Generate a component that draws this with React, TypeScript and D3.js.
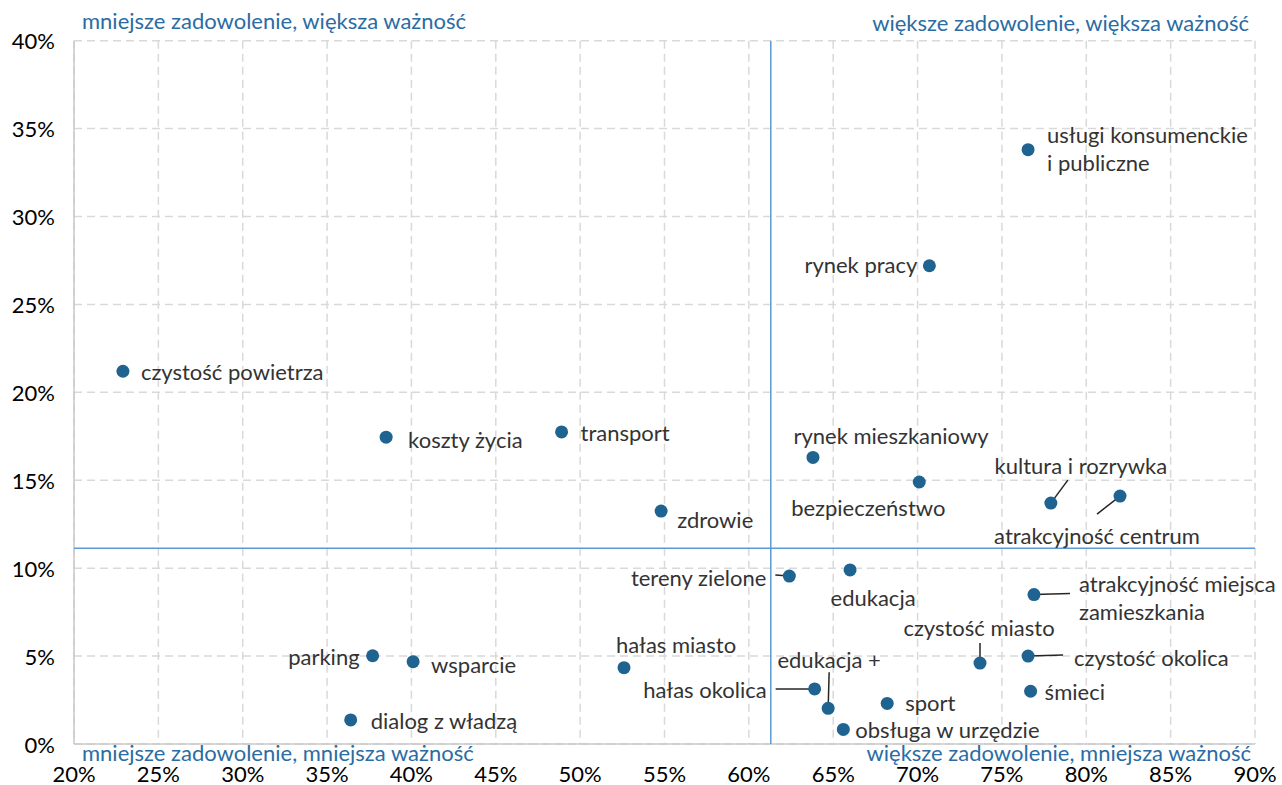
import React from "react";
import * as d3 from "d3";

// ---- data ----
const labels = [
  "usługi konsumenckie\ni publiczne",
  "rynek pracy",
  "czystość powietrza",
  "koszty życia",
  "transport",
  "zdrowie",
  "rynek mieszkaniowy",
  "bezpieczeństwo",
  "kultura i rozrywka",
  "atrakcyjność centrum",
  "atrakcyjność miejsca\nzamieszkania",
  "tereny zielone",
  "edukacja",
  "hałas miasto",
  "hałas okolica",
  "edukacja +",
  "sport",
  "obsługa w urzędzie",
  "czystość miasto",
  "czystość okolica",
  "śmieci",
  "parking",
  "wsparcie",
  "dialog z władzą",
];
const satisfaction = [
  0.7655, 0.707, 0.229, 0.385, 0.489, 0.548, 0.638, 0.701, 0.779, 0.82,
  0.769, 0.624, 0.66, 0.526, 0.639, 0.647, 0.682, 0.656, 0.737, 0.7655,
  0.767, 0.377, 0.401, 0.364,
];
const importance = [
  0.338, 0.272, 0.212, 0.1745, 0.1775, 0.1325, 0.163, 0.149, 0.137, 0.141,
  0.085, 0.0955, 0.099, 0.0434, 0.0313, 0.0203, 0.0231, 0.0083, 0.046, 0.05,
  0.03, 0.0502, 0.0468, 0.0137,
];
const xTicks = [0.2, 0.25, 0.3, 0.35, 0.4, 0.45, 0.5, 0.55, 0.6, 0.65, 0.7, 0.75, 0.8, 0.85, 0.9];
const yTicks = [0, 0.05, 0.1, 0.15, 0.2, 0.25, 0.3, 0.35, 0.4];
const meanSatisfaction = 0.613;
const meanImportance = 0.1113;
const quadrantLabels = [
  "mniejsze zadowolenie, większa ważność",
  "większe zadowolenie, większa ważność",
  "mniejsze zadowolenie, mniejsza ważność",
  "większe zadowolenie, mniejsza ważność",
];

// ---- label placement (offsets in px from the dot) ----
type Place = { dx: number; dy: number; anchor: string; leader?: [number, number] };
const placement: Place[] = [
  { dx: 19, dy: -16, anchor: "start" },
  { dx: -12, dy: -2, anchor: "end" },
  { dx: 18, dy: 0, anchor: "start" },
  { dx: 22, dy: 2, anchor: "start" },
  { dx: 19, dy: 0, anchor: "start" },
  { dx: 16, dy: 8, anchor: "start" },
  { dx: 78, dy: -22, anchor: "middle" },
  { dx: -51, dy: 25, anchor: "middle" },
  { dx: 30, dy: -38, anchor: "middle", leader: [17, -23] },
  { dx: -23, dy: 39, anchor: "middle", leader: [-23, 18] },
  { dx: 45, dy: -12, anchor: "start", leader: [36, -1] },
  { dx: -23, dy: 1, anchor: "end", leader: [-14, -1] },
  { dx: 23, dy: 27, anchor: "middle" },
  { dx: 52, dy: -24, anchor: "middle" },
  { dx: -48, dy: 0, anchor: "end", leader: [-39, 0] },
  { dx: 1, dy: -49, anchor: "middle", leader: [1, -36] },
  { dx: 18, dy: -1, anchor: "start" },
  { dx: 12, dy: 0, anchor: "start" },
  { dx: -1, dy: -36, anchor: "middle", leader: [0, -20] },
  { dx: 46, dy: 1, anchor: "start", leader: [35, -1] },
  { dx: 14, dy: 0, anchor: "start" },
  { dx: -13, dy: 0, anchor: "end" },
  { dx: 18, dy: 2, anchor: "start" },
  { dx: 20, dy: 0, anchor: "start" },
];

const W = 1282;
const H = 785;
const left = 74;
const right = 1255;
const top = 40.7;
const bottom = 744;
const FONT = "Lato, 'Noto Sans', sans-serif";
const FS = 22;
const TEXT = "#333333";
const BLUE = "#2a6ca3";
const DOT = "#1f6391";

export default function App() {
  const x = d3.scaleLinear().domain([0.2, 0.9]).range([left, right]);
  const y = d3.scaleLinear().domain([0, 0.4]).range([bottom, top]);
  const pct = d3.format(".0%");
  const lineH = 28;

  return (
    <div style={{ position: "absolute", left: 0, top: 0 }}>
      <svg width={W} height={H} style={{ display: "block", background: "#fff" }} fontFamily={FONT}>
        {/* grid */}
        {xTicks.map((t, i) => (
          <line key={"gx" + i} x1={x(t)} x2={x(t)} y1={top} y2={bottom}
            stroke="#d9d9d9" strokeWidth={1.5} strokeDasharray="8,5" />
        ))}
        {yTicks.map((t, i) => (
          <line key={"gy" + i} x1={left} x2={right} y1={y(t)} y2={y(t)}
            stroke="#d9d9d9" strokeWidth={1.5} strokeDasharray="8,5" />
        ))}
        {/* axes */}
        <line x1={left} x2={left} y1={top} y2={bottom} stroke="#c8c8c8" strokeWidth={1.5} />
        <line x1={left} x2={right} y1={bottom} y2={bottom} stroke="#c8c8c8" strokeWidth={1.5} />
        {/* mean lines */}
        <line x1={x(meanSatisfaction)} x2={x(meanSatisfaction)} y1={top} y2={bottom} stroke="#5b9bd5" strokeWidth={1.5} />
        <line x1={left} x2={right} y1={y(meanImportance)} y2={y(meanImportance)} stroke="#5b9bd5" strokeWidth={1.5} />
        {/* tick labels */}
        {yTicks.map((t, i) => (
          <text key={"ty" + i} x={55} y={y(t)} textAnchor="end" dominantBaseline="central"
            fontSize={FS} fill="#000">{pct(t)}</text>
        ))}
        {xTicks.map((t, i) => (
          <text key={"tx" + i} x={x(t)} y={773} textAnchor="middle" dominantBaseline="central"
            fontSize={FS} fill="#000">{pct(t)}</text>
        ))}
        {/* quadrant labels */}
        <text x={82} y={20} dominantBaseline="central" fontSize={FS} fill={BLUE}>{quadrantLabels[0]}</text>
        <text x={1249} y={22} textAnchor="end" dominantBaseline="central" fontSize={FS} fill={BLUE}>{quadrantLabels[1]}</text>
        <text x={82} y={752} dominantBaseline="central" fontSize={FS} fill={BLUE}>{quadrantLabels[2]}</text>
        <text x={1251} y={752} textAnchor="end" dominantBaseline="central" fontSize={FS} fill={BLUE}>{quadrantLabels[3]}</text>
        {/* leaders */}
        {labels.map((_, i) => {
          const p = placement[i];
          if (!p.leader) return null;
          const cx = x(satisfaction[i]);
          const cy = y(importance[i]);
          return (
            <line key={"ld" + i} x1={cx} y1={cy} x2={cx + p.leader[0]} y2={cy + p.leader[1]}
              stroke="#262626" strokeWidth={1.5} />
          );
        })}
        {/* dots */}
        {labels.map((_, i) => (
          <circle key={"pt" + i} cx={x(satisfaction[i])} cy={y(importance[i])} r={6.5} fill={DOT} />
        ))}
        {/* point labels */}
        {labels.map((l, i) => {
          const p = placement[i];
          const cx = x(satisfaction[i]);
          const cy = y(importance[i]);
          const lines = l.split("\n");
          return (
            <text key={"lb" + i} x={cx + p.dx} y={cy + p.dy} textAnchor={p.anchor}
              dominantBaseline="central" fontSize={FS} fill={TEXT}>
              {lines.map((s, j) => (
                <tspan key={j} x={cx + p.dx} dy={j === 0 ? 0 : lineH}>{s}</tspan>
              ))}
            </text>
          );
        })}
      </svg>
    </div>
  );
}
